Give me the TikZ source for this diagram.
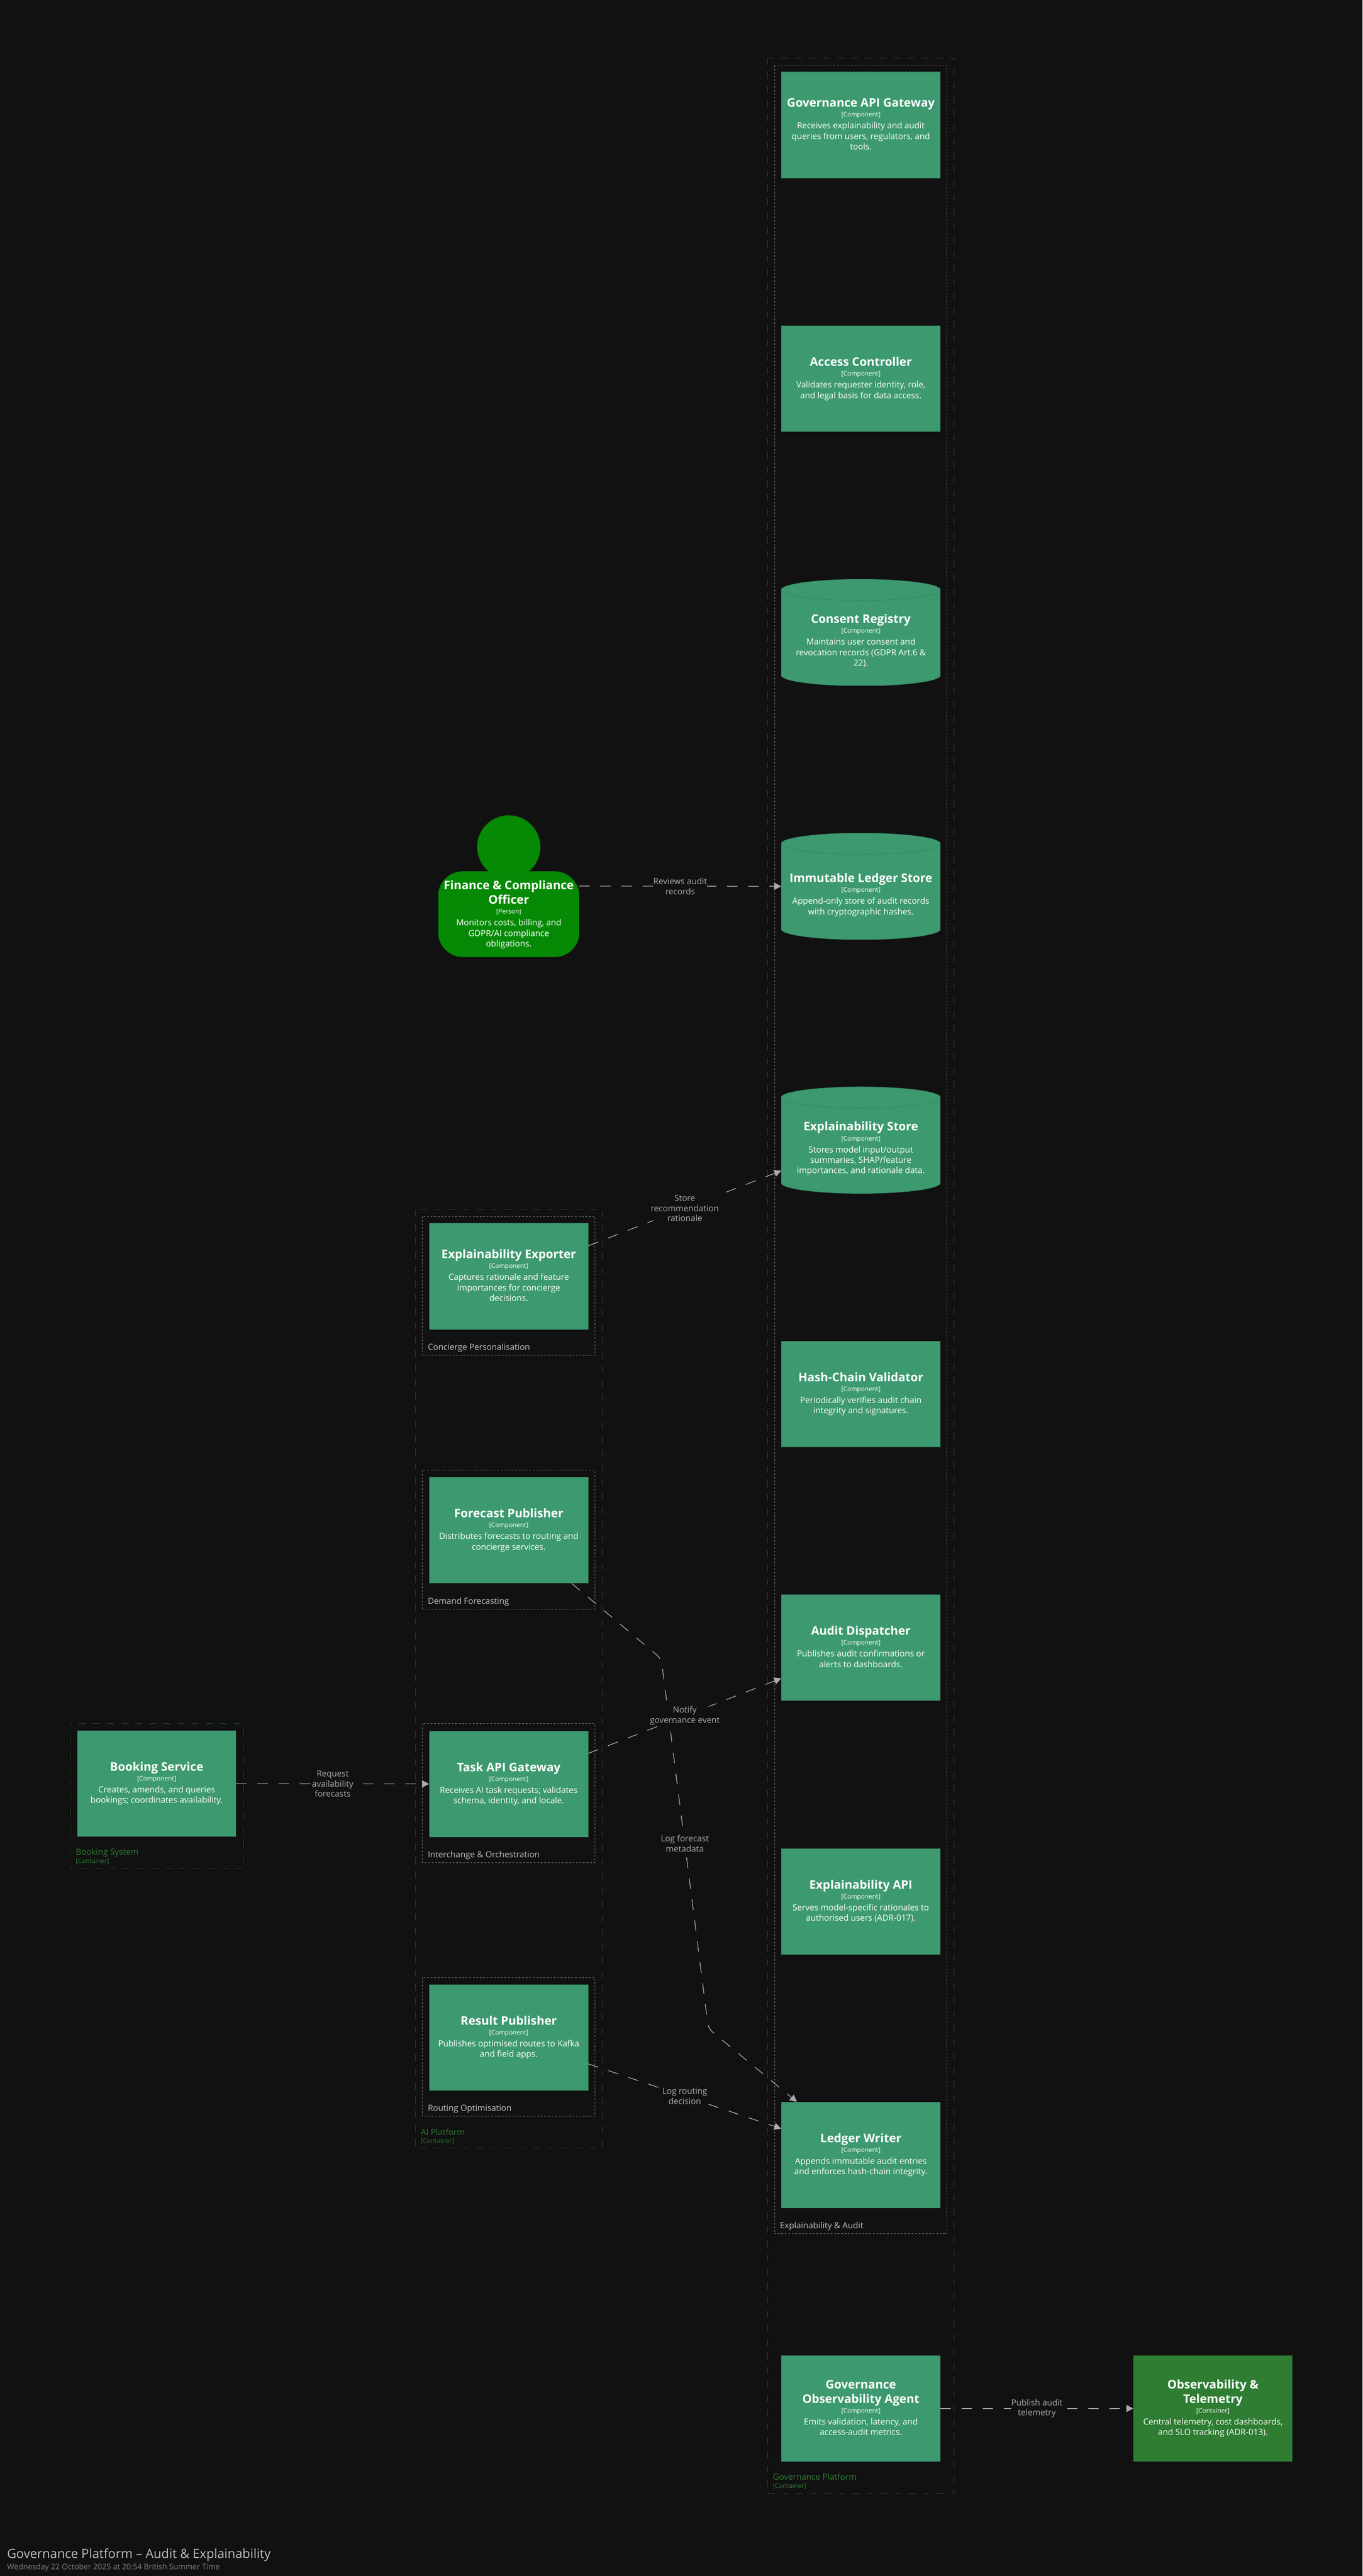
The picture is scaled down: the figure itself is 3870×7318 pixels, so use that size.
\documentclass[tikz,border=0pt]{standalone}
\usepackage{fontspec}
\setmainfont{Open Sans}
\usetikzlibrary{arrows.meta}
\definecolor{canvasbg}{HTML}{111111}
\definecolor{compfill}{HTML}{3D9970}
\definecolor{compline}{HTML}{388C67}
\definecolor{contfill}{HTML}{2E7D32}
\definecolor{contline}{HTML}{2A722E}
\definecolor{personfill}{HTML}{068A05}
\definecolor{personline}{HTML}{0A7A0A}
\definecolor{bounddark}{HTML}{1E4D21}
\definecolor{groupgray}{HTML}{7A7A7A}
\definecolor{relgray}{HTML}{AAAAAA}
\newcommand{\cname}[1]{{\fontsize{33.6}{40}\selectfont\bfseries\strut #1}}
\newcommand{\cmeta}[1]{{\fontsize{18}{21.6}\selectfont\strut #1}}
\newcommand{\cdesc}[1]{{\fontsize{24}{28.8}\selectfont\strut #1}}
\tikzset{
  comp/.style={rectangle,draw=compline,fill=compfill,line width=2pt,minimum width=450pt,
    minimum height=300pt,inner sep=0pt,text=white,align=center},
  cont/.style={comp,draw=contline,fill=contfill},
  store/.style={rectangle,minimum width=452pt,minimum height=302pt,inner sep=0pt,outer sep=0pt,
    text=white,align=center,
    path picture={
      \filldraw[draw=compline,fill=compfill,line width=2pt]
        ([yshift=-30pt]path picture bounding box.north west)
        arc[start angle=180,end angle=0,x radius=226pt,y radius=30pt]
        -- ([yshift=30pt]path picture bounding box.south east)
        arc[start angle=0,end angle=-180,x radius=226pt,y radius=30pt] -- cycle;
      \draw[draw=compline,line width=2pt]
        ([yshift=-30pt]path picture bounding box.north west)
        arc[start angle=180,end angle=360,x radius=226pt,y radius=30pt];
    }},
  officerbox/.style={rectangle,minimum width=400pt,minimum height=402pt,inner sep=0pt,outer sep=0pt,
    text=white,align=center,
    path picture={
      \filldraw[draw=personline,fill=personfill,line width=2pt,rounded corners=70pt]
        ([yshift=-160pt]path picture bounding box.north west)
        rectangle (path picture bounding box.south east);
      \filldraw[draw=personline,fill=personfill,line width=2pt]
        ([yshift=-90pt]path picture bounding box.north) circle[radius=89pt];
      \draw[personline,line width=1pt] ([xshift=80pt]path picture bounding box.south west) -- ++(0pt,135pt);
      \draw[personline,line width=1pt] ([xshift=-80pt]path picture bounding box.south east) -- ++(0pt,135pt);
    }},
  outerbound/.style={draw=bounddark,line width=1.5pt,dash pattern=on 20pt off 20pt},
  groupbound/.style={draw=groupgray,line width=1.5pt,dash pattern=on 5pt off 5pt},
  rel/.style={draw=relgray,line width=2pt,dash pattern=on 30pt off 30pt,rounded corners=15pt,
    -{Triangle[length=20pt,width=20pt,fill=relgray]}},
  rellabel/.style={fill=canvasbg,inner sep=0pt,text=relgray,align=center,
    font=\fontsize{24}{28.8}\selectfont},
  grouplabel/.style={anchor=west,inner sep=0pt,text=lightgray,font=\fontsize{24}{28.8}\selectfont},
  contlabel/.style={anchor=west,inner sep=0pt,text=contfill,font=\fontsize{24}{28.8}\selectfont},
  contmeta/.style={anchor=west,inner sep=0pt,text=contfill,font=\fontsize{18}{21.6}\selectfont},
}
\begin{document}
\begin{tikzpicture}[x=1pt,y=-1pt]
\fill[canvasbg] (0,0) rectangle (3870,7318);
\draw[outerbound] (200,4897) rectangle (691,5308);
\draw[outerbound] (1180,3436) rectangle (1710,6103);
\draw[outerbound] (2180,164) rectangle (2710,7083);
\draw[groupbound] (2200,185) rectangle (2690,6346);
\draw[groupbound] (1200,3456) rectangle (1690,3850);
\draw[groupbound] (1200,4177) rectangle (1690,4571);
\draw[groupbound] (1200,4897) rectangle (1690,5291);
\draw[groupbound] (1200,5618) rectangle (1690,6012);
\node[grouplabel] (conciergelabel) at (1215,3829) {Concierge Personalisation};
\node[grouplabel] (demandlabel) at (1215,4550) {Demand Forecasting};
\node[grouplabel] (interchangelabel) at (1215,5270) {Interchange \& Orchestration};
\node[grouplabel] (routinglabel) at (1215,5991) {Routing Optimisation};
\node[grouplabel] (auditlabel) at (2215,6325) {Explainability \& Audit};
\node[contlabel] (bookinglabel) at (215,5263) {Booking System};
\node[contmeta] (bookingmeta) at (215,5288) {[Container]};
\node[contlabel] (platformlabel) at (1195,6057) {AI Platform};
\node[contmeta] (platformmeta) at (1195,6083) {[Container]};
\node[contlabel] (govlabel) at (2195,7036) {Governance Platform};
\node[contmeta] (govmeta) at (2195,7063) {[Container]};
\node[comp] (gateway) at (2445,355) {\cname{Governance API Gateway}\\\cmeta{[Component]}\\[6pt]
  \cdesc{Receives explainability and audit}\\\cdesc{queries from users, regulators, and}\\\cdesc{tools.}};
\node[comp] (accessctl) at (2445,1076) {\cname{Access Controller}\\\cmeta{[Component]}\\[6pt]
  \cdesc{Validates requester identity, role,}\\\cdesc{and legal basis for data access.}};
\node[store] (consent) at (2445,1797) {\rule{0pt}{48pt}\\\cname{Consent Registry}\\\cmeta{[Component]}\\[6pt]
  \cdesc{Maintains user consent and}\\\cdesc{revocation records (GDPR Art.6 \&}\\\cdesc{22).}};
\node[store] (ledgerstore) at (2445,2518) {\rule{0pt}{48pt}\\\cname{Immutable Ledger Store}\\\cmeta{[Component]}\\[6pt]
  \cdesc{Append-only store of audit records}\\\cdesc{with cryptographic hashes.}};
\node[store] (explstore) at (2445,3239) {\rule{0pt}{48pt}\\\cname{Explainability Store}\\\cmeta{[Component]}\\[6pt]
  \cdesc{Stores model input/output}\\\cdesc{summaries, SHAP/feature}\\\cdesc{importances, and rationale data.}};
\node[comp] (hashcheck) at (2445,3960) {\cname{Hash-Chain Validator}\\\cmeta{[Component]}\\[6pt]
  \cdesc{Periodically verifies audit chain}\\\cdesc{integrity and signatures.}};
\node[comp] (dispatcher) at (2445,4681) {\cname{Audit Dispatcher}\\\cmeta{[Component]}\\[6pt]
  \cdesc{Publishes audit confirmations or}\\\cdesc{alerts to dashboards.}};
\node[comp] (explapi) at (2445,5402) {\cname{Explainability API}\\\cmeta{[Component]}\\[6pt]
  \cdesc{Serves model-specific rationales to}\\\cdesc{authorised users (ADR-017).}};
\node[comp] (ledgerwriter) at (2445,6122) {\cname{Ledger Writer}\\\cmeta{[Component]}\\[6pt]
  \cdesc{Appends immutable audit entries}\\\cdesc{and enforces hash-chain integrity.}};
\node[comp] (obsagent) at (2445,6842) {\cname{Governance}\\\cname{Observability Agent}\\\cmeta{[Component]}\\[6pt]
  \cdesc{Emits validation, latency, and}\\\cdesc{access-audit metrics.}};
\node[cont] (telemetry) at (3445,6842) {\cname{Observability \&}\\\cname{Telemetry}\\\cmeta{[Container]}\\[6pt]
  \cdesc{Central telemetry, cost dashboards,}\\\cdesc{and SLO tracking (ADR-013).}};
\node[comp] (exporter) at (1445,3626) {\cname{Explainability Exporter}\\\cmeta{[Component]}\\[6pt]
  \cdesc{Captures rationale and feature}\\\cdesc{importances for concierge}\\\cdesc{decisions.}};
\node[comp] (publisher) at (1445,4347) {\cname{Forecast Publisher}\\\cmeta{[Component]}\\[6pt]
  \cdesc{Distributes forecasts to routing and}\\\cdesc{concierge services.}};
\node[comp] (taskgateway) at (1445,5068) {\cname{Task API Gateway}\\\cmeta{[Component]}\\[6pt]
  \cdesc{Receives AI task requests; validates}\\\cdesc{schema, identity, and locale.}};
\node[comp] (resultpub) at (1445,5788) {\cname{Result Publisher}\\\cmeta{[Component]}\\[6pt]
  \cdesc{Publishes optimised routes to Kafka}\\\cdesc{and field apps.}};
\node[comp] (bookingsvc) at (445,5067) {\cname{Booking Service}\\\cmeta{[Component]}\\[6pt]
  \cdesc{Creates, amends, and queries}\\\cdesc{bookings; coordinates availability.}};
\node[officerbox] (officer) at (1445,2517) {\rule{0pt}{162pt}\\\cname{Finance \& Compliance}\\\cname{Officer}\\\cmeta{[Person]}\\[6pt]
  \cdesc{Monitors costs, billing, and}\\\cdesc{GDPR/AI compliance}\\\cdesc{obligations.}};
\coordinate (forecastbendA) at (1878,4712);
\coordinate (forecastbendB) at (2012,5763);
\draw[rel] (publisher) -- (forecastbendA) -- node[rellabel]{Log forecast\\metadata} (forecastbendB) -- (ledgerwriter);
\draw[rel] (officer) -- node[rellabel]{Reviews audit\\records} (ledgerstore);
\draw[rel] (exporter) -- node[rellabel]{Store\\recommendation\\rationale} (explstore);
\draw[rel] (taskgateway) -- node[rellabel]{Notify\\governance event} (dispatcher);
\draw[rel] (bookingsvc) -- node[rellabel]{Request\\availability\\forecasts} (taskgateway);
\draw[rel] (resultpub) -- node[rellabel]{Log routing\\decision} (ledgerwriter);
\draw[rel] (obsagent) -- node[rellabel]{Publish audit\\telemetry} (telemetry);
\node[anchor=west,inner sep=0pt,text=lightgray,font=\fontsize{36}{43}\selectfont] (charttitle) at (20,7258) {Governance Platform – Audit \& Explainability};
\node[anchor=west,inner sep=0pt,text=gray,font=\fontsize{22}{26.4}\selectfont] (chartstamp) at (20,7294) {Wednesday 22 October 2025 at 20:54 British Summer Time};
\end{tikzpicture}
\end{document}
